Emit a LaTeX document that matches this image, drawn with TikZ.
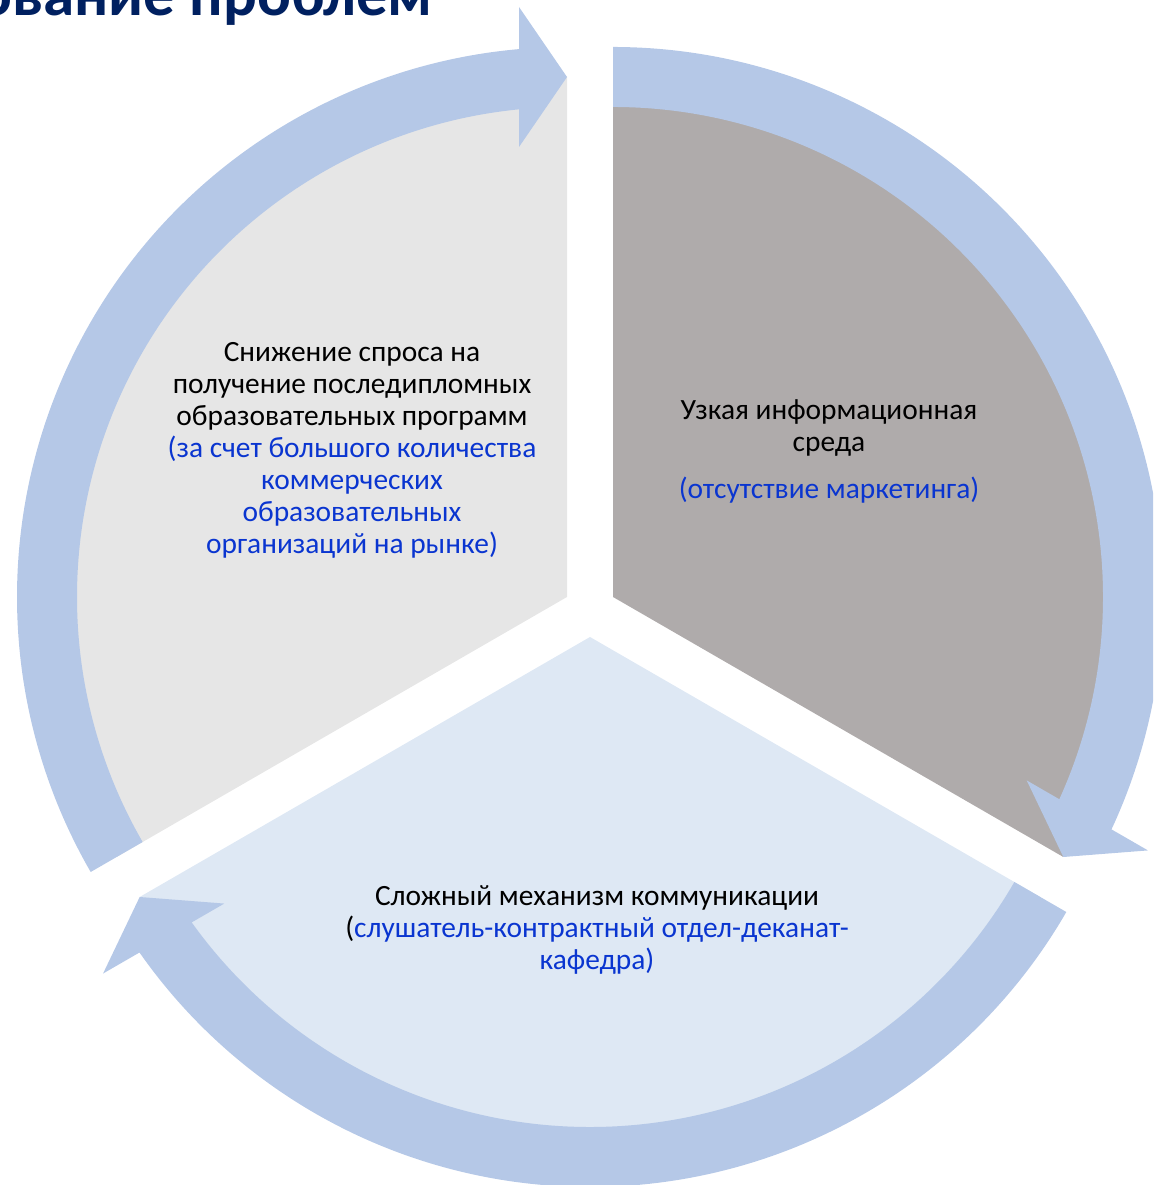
\documentclass[tikz,border=0pt]{standalone}
\usepackage{fontspec}
\setmainfont{Carlito}
\definecolor{arrowblue}{HTML}{B5C8E7}
\definecolor{pieleft}{HTML}{E6E6E6}
\definecolor{piegray}{HTML}{AFABAB}
\definecolor{piebottom}{HTML}{DEE8F4}
\definecolor{txtblue}{HTML}{0A35D0}
\definecolor{titleblue}{HTML}{002060}
\tikzset{
  cycarrow/.pic={
    \fill[arrowblue] (120:490pt) -- (120:550pt)
      arc[start angle=120, end angle=5.007, radius=550pt]
      -- (590pt,48pt) -- (520pt,0pt) -- (450pt,48pt) -- (487.65pt,48pt)
      arc[start angle=5.62, end angle=120, radius=490pt] -- cycle;
  },
  lbl/.style={font=\fontsize{29.4}{32}\selectfont, align=center, anchor=base, inner sep=0pt},
  sectorL/.style={fill=pieleft},
  sectorG/.style={fill=piegray},
  sectorB/.style={fill=piebottom},
}
\begin{document}
\begin{tikzpicture}[x=1pt,y=1pt]
\useasboundingbox (0,0) rectangle (1153,1185);
\clip (0,0) rectangle (1153,1185);
% centres of the three exploded sectors
\coordinate (cL) at (567,588);
\coordinate (cG) at (613,588);
\coordinate (cB) at (590,548);
% sectors
\fill[sectorL] (cL) -- ++(90:520pt) arc[start angle=90, end angle=210, radius=520pt] -- cycle;
\fill[sectorG] (cG) -- ++(90:520pt) arc[start angle=90, end angle=-30, radius=520pt] -- cycle;
\fill[sectorB] (cB) -- ++(210:520pt) arc[start angle=210, end angle=330, radius=520pt] -- cycle;
% circular arrows
\pic[rotate=90] at (cL) {cycarrow};
\pic[rotate=-30] at (cG) {cycarrow};
\pic[rotate=210] at (cB) {cycarrow};
% title (cut off at the top)
\node[font=\fontsize{63}{75}\selectfont\bfseries, text=titleblue, anchor=base east, inner sep=0pt] (title) at (433,1169) {ование проблем};
% labels (anchor = baseline of the last line)
\node[lbl] (lefttxt) at (352,631) {Снижение спроса на\\получение последипломных\\образовательных программ\\{\color{txtblue}(за счет большого количества}\\{\color{txtblue}коммерческих}\\{\color{txtblue}образовательных}\\{\color{txtblue}организаций на рынке)}};
\node[lbl] (righttxt) at (829,686) {Узкая информационная\\среда\\[15pt]{\color{txtblue}(отсутствие маркетинга)}};
\node[lbl] (bottomtxt) at (597,215) {Сложный механизм коммуникации\\({\color{txtblue}слушатель-контрактный отдел-деканат-}\\{\color{txtblue}кафедра)}};
\end{tikzpicture}
\end{document}
